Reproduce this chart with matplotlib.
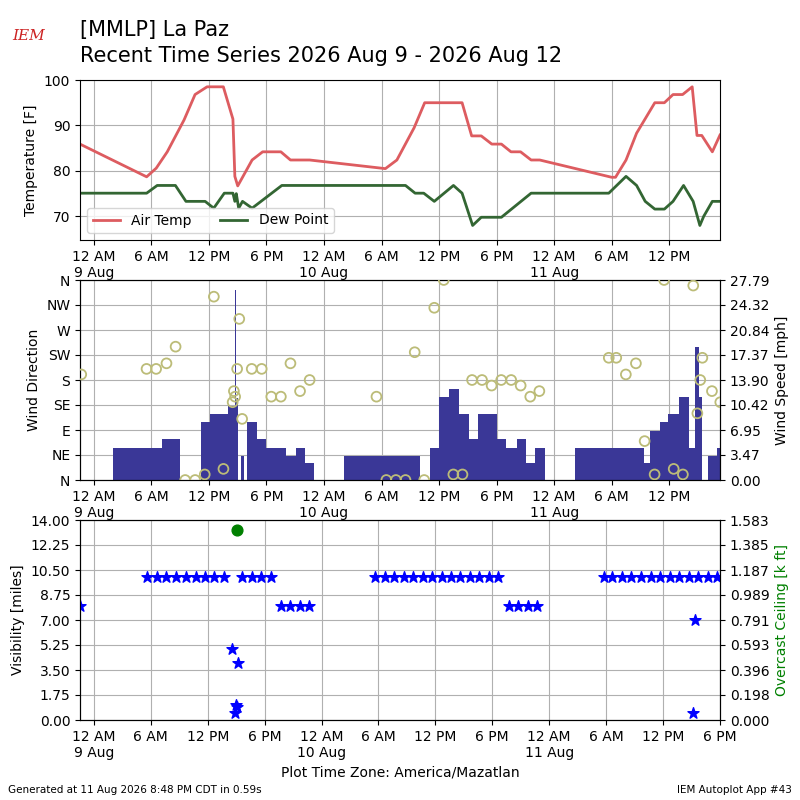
import matplotlib
matplotlib.use("Agg")
import matplotlib.pyplot as plt
import numpy as np

# hours since 2026-08-09 00:00 (America/Mazatlan)
temp_h = [-1.45, 5.5, 6.5, 7.65, 9.4, 10.55, 11.8, 13.5, 14.5, 14.7, 15.0, 16.5, 17.6, 19.5, 20.5, 22.5,
          30.4, 31.6, 33.4, 34.5, 38.4, 39.4, 40.4, 41.5, 42.5, 43.5, 44.5, 45.6, 46.5,
          54.0, 54.4, 55.5, 56.6, 58.5, 59.5, 60.4, 61.4, 62.4, 62.9, 63.4, 64.5, 65.3]
temp_f = [85.9, 78.7, 80.6, 84.2, 91.2, 96.8, 98.5, 98.5, 91.4, 78.8, 76.7, 82.4, 84.2, 84.2, 82.4, 82.4,
          80.5, 82.4, 89.5, 95.0, 95.0, 87.7, 87.7, 85.9, 85.9, 84.2, 84.2, 82.4, 82.4,
          78.6, 78.6, 82.4, 88.3, 95.0, 95.0, 96.8, 96.8, 98.5, 87.8, 87.8, 84.2, 87.9]
dew_h = [-1.45, 5.5, 6.6, 8.5, 9.6, 11.6, 12.5, 13.6, 14.5, 14.7, 14.85, 15.1, 15.5, 16.5, 19.6,
         32.5, 33.5, 34.4, 35.5, 37.5, 38.4, 39.5, 40.4, 42.5, 45.6,
         53.7, 55.5, 56.6, 57.5, 58.5, 59.5, 60.4, 61.5, 62.5, 63.2, 63.6, 64.5, 65.3]
dew_f = [75.1, 75.1, 76.8, 76.8, 73.3, 73.3, 71.8, 75.1, 75.1, 73.3, 75.0, 71.8, 73.3, 71.8, 76.8,
         76.8, 75.1, 75.1, 73.3, 76.8, 75.1, 68.0, 69.8, 69.8, 75.1,
         75.1, 78.8, 76.8, 73.3, 71.6, 71.6, 73.3, 76.8, 73.3, 68.0, 70.0, 73.3, 73.3]

wind_start = [2.02, 7.14, 11.13, 12.08, 14.03, 14.7, 14.85, 15.33, 16.0, 17.06, 17.98, 20.02, 21.1, 21.97,
              26.08, 35.1, 35.97, 37.06, 38.1, 39.09, 40.05, 42.04, 43.0, 44.08, 45.04, 46.04,
              50.15, 57.39, 57.96, 59.04, 59.91, 60.99, 62.07, 62.72, 63.16, 64.03, 65.03]
wind_end = [7.14, 8.96, 12.08, 14.03, 14.7, 14.85, 15.05, 15.68, 17.06, 17.98, 20.02, 21.1, 21.97, 22.96,
            34.02, 35.97, 37.06, 38.1, 39.09, 40.05, 42.04, 43.0, 44.08, 45.04, 46.04, 47.0,
            57.39, 57.96, 59.04, 59.91, 60.99, 62.07, 62.72, 63.16, 63.46, 65.03, 65.6]
wind_mph = [4.5, 5.7, 8.06, 9.17, 10.3, 26.4, 11.4, 3.4, 8.06, 5.7, 4.5, 3.4, 4.5, 2.3,
            3.4, 4.5, 11.5, 12.6, 9.17, 5.7, 9.17, 5.7, 4.5, 5.7, 2.3, 4.5,
            4.5, 2.3, 6.85, 8.06, 9.17, 11.5, 4.5, 18.5, 11.5, 3.4, 4.5]

dir_h = [-1.32, 5.49, 6.49, 7.57, 8.52, 9.52, 10.56, 11.56, 12.51, 13.51, 14.47, 14.6, 14.73, 14.94, 15.16,
         15.46, 16.46, 17.5, 18.5, 19.5, 20.5, 21.5, 22.5, 29.47, 30.5, 31.5, 32.5, 33.46, 34.45, 35.5,
         36.49, 37.49, 38.44, 39.44, 40.48, 41.48, 42.48, 43.52, 44.51, 45.51, 46.46, 53.7, 54.48, 55.48,
         56.53, 57.44, 58.48, 59.47, 60.47, 61.43, 62.51, 62.94, 63.24, 63.46, 64.46, 65.33]
dir_deg = [190, 200, 200, 210, 240, 0, 0, 10, 330, 20, 140, 160, 150, 200, 290,
           110, 200, 200, 150, 150, 210, 160, 180, 150, 0, 0, 0, 230, 0, 310,
           360, 10, 10, 180, 180, 170, 180, 180, 170, 150, 160, 220, 220, 190,
           210, 70, 10, 360, 20, 10, 350, 120, 180, 220, 160, 140]

vis_h = [-1.46, 5.62, 6.62, 7.63, 8.63, 9.73, 10.73, 11.69, 12.69, 13.7, 15.66, 16.67, 17.67, 18.63,
         19.68, 20.68, 21.69, 22.65,
         29.68, 30.68, 31.67, 32.67, 33.66, 34.66, 35.65, 36.65, 37.64, 38.64, 39.63, 40.63, 41.62, 42.6,
         43.74, 44.75, 45.71, 46.71,
         53.79, 54.57, 55.7, 56.67, 57.67, 58.68, 59.68, 60.68, 61.69, 62.7, 63.7, 64.71, 65.71,
         14.61, 15.2, 14.98, 15.1, 14.84, 63.38, 63.15]
vis_mi = [8]+[10]*9+[10]*4+[8]*4+[10]*14+[8]*4+[10]*13+[5.0, 4.0, 1.05, 0.94, 0.5, 7.0, 0.5]

ceil_h = [15.1]
ceil_kft = [1.504]

tick_h = list(range(0, 67, 6))
def labels(ticks):
    out = []
    for t in ticks:
        hr = t % 24
        s = {0: "12 AM", 6: "6 AM", 12: "12 PM", 18: "6 PM"}[hr]
        if hr == 0:
            s += "\n%d Aug" % (9 + t // 24)
        out.append(s)
    return out

fig = plt.figure(figsize=(8, 8), dpi=100)
W = 640 / 800
ax1 = fig.add_axes([0.1, 1 - 240 / 800, W, 160 / 800])
ax2 = fig.add_axes([0.1, 1 - 480 / 800, W, 200 / 800])
ax3 = fig.add_axes([0.1, 1 - 720 / 800, W, 200 / 800])

ax1.plot(temp_h, temp_f, color="#dd5c60", lw=2, label="Air Temp")
ax1.plot(dew_h, dew_f, color="#336633", lw=2, label="Dew Point")
ax1.set_ylim(64.8, 100)
ax1.set_yticks([70, 80, 90, 100])
ax1.set_ylabel("Temperature [F]")
ax1.legend(loc="lower left", ncol=2)

ax2d = ax2.twinx()
ws = np.array(wind_start); we = np.array(wind_end)
ax2.bar(ws, wind_mph, width=we - ws, align="edge", color="#3a3797", zorder=2)
ax2.set_ylim(0, 27.792)
ax2.set_yticks(np.linspace(0, 27.792, 9))
ax2.yaxis.set_major_formatter(matplotlib.ticker.FormatStrFormatter("%.2f"))
ax2.yaxis.tick_right(); ax2.yaxis.set_label_position("right")
ax2.set_ylabel("Wind Speed [mph]")
ax2d.yaxis.tick_left(); ax2d.yaxis.set_label_position("left")
ax2d.scatter(dir_h, dir_deg, s=50, facecolors="none", edgecolors="#bcbc78", lw=1.3, zorder=3)
ax2d.set_ylim(0, 360)
ax2d.set_yticks(range(0, 361, 45))
ax2d.set_yticklabels(["N", "NE", "E", "SE", "S", "SW", "W", "NW", "N"])
ax2d.set_ylabel("Wind Direction")

ax3.scatter(vis_h, vis_mi, marker="*", s=70, color="blue", zorder=3)
ax3.set_ylim(0, 14)
ax3.set_yticks(np.linspace(0, 14, 9))
ax3.yaxis.set_major_formatter(matplotlib.ticker.FormatStrFormatter("%.2f"))
ax3.set_ylabel("Visibility [miles]")
ax3c = ax3.twinx()
ax3c.scatter(ceil_h, ceil_kft, s=60, color="green", zorder=3)
ax3c.set_ylim(0, 1.58255)
ax3c.set_yticks(np.linspace(0, 1.58255, 9))
ax3c.yaxis.set_major_formatter(matplotlib.ticker.FormatStrFormatter("%.3f"))
ax3c.set_ylabel("Overcast Ceiling [k ft]", color="green")

for ax, lim in ((ax1, (-1.45, 65.3)), (ax2, (-1.45, 65.3)), (ax3, (-1.46, 66))):
    ax.set_xlim(*lim)
    tk = [t for t in tick_h if lim[0] <= t <= lim[1]]
    ax.set_xticks(tk)
    ax.set_xticklabels(labels(tk))
    ax.grid(True, color="#b0b0b0", zorder=0)
    ax.set_axisbelow(True)
ax2d.set_xlim(-1.45, 65.3)
ax3c.set_xlim(-1.46, 66)

ax3.set_xlabel("Plot Time Zone: America/Mazatlan")
fig.text(0.1, 1 - 30 / 800, "[MMLP] La Paz", fontsize=15, va="center")
fig.text(0.1, 1 - 56 / 800, "Recent Time Series 2026 Aug 9 - 2026 Aug 12", fontsize=15, va="center")
fig.text(0.015, 1 - 40 / 800, "IEM", color="#cc2222", fontsize=11, style="italic", family="DejaVu Serif")
fig.text(0.01, 1 - 790 / 800, "Generated at 11 Aug 2026 8:48 PM CDT in 0.59s", fontsize=7.5, va="center")
fig.text(0.99, 1 - 790 / 800, "IEM Autoplot App #43", fontsize=7.5, va="center", ha="right")
fig.savefig("out.png", dpi=100)
